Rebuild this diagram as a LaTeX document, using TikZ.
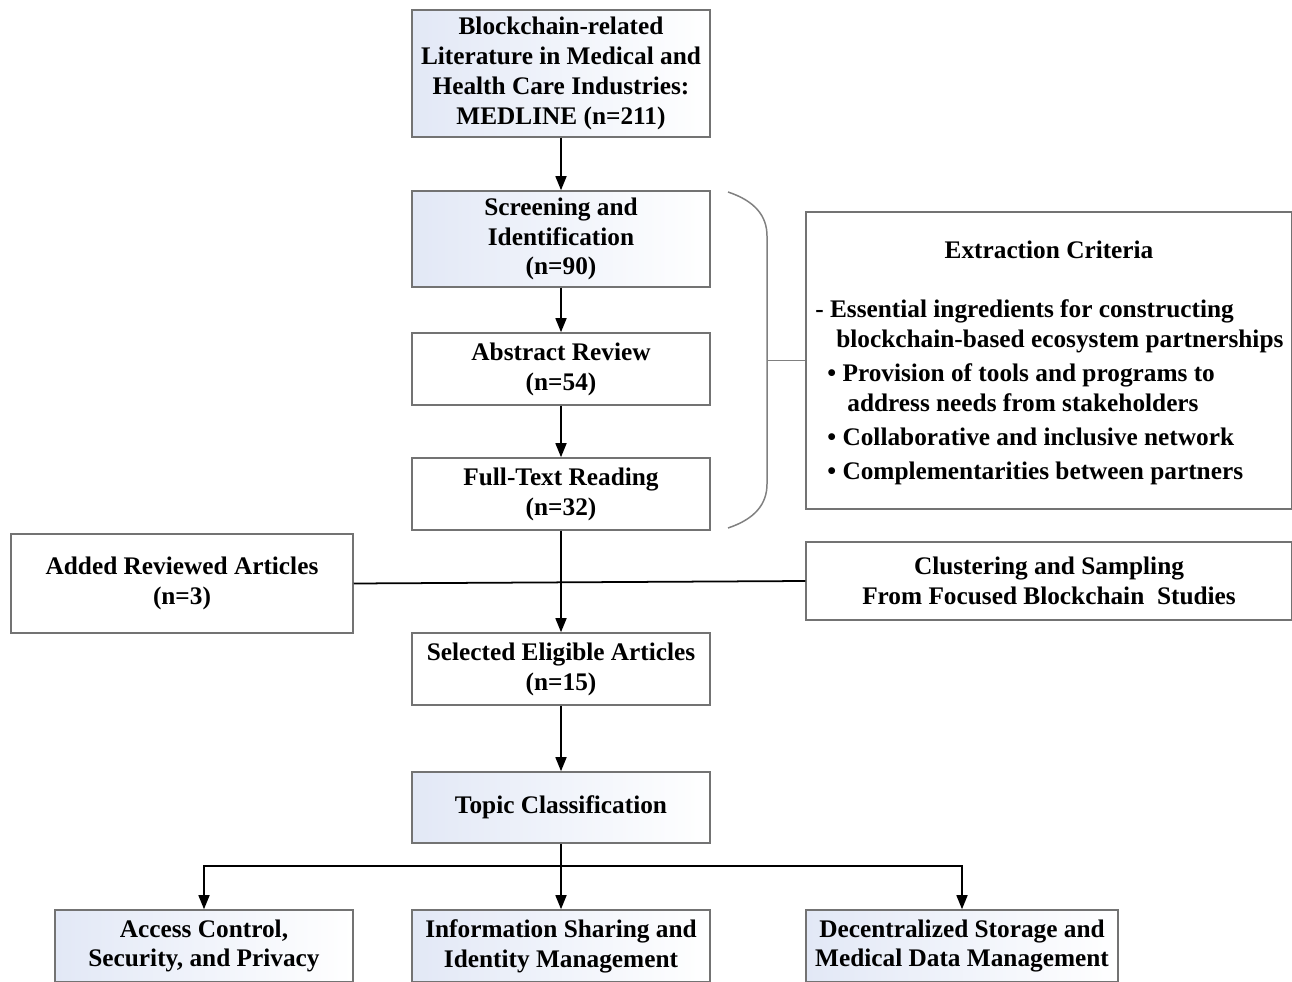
\documentclass[tikz,border=0pt]{standalone}
\usepackage{fontspec}
\setmainfont{Liberation Serif}
\usetikzlibrary{arrows.meta}
\definecolor{gradblue}{RGB}{226,232,246}
\begin{document}
\begin{tikzpicture}[
  font=\fontsize{14.4}{17}\selectfont\bfseries,
  arr/.style={-{Triangle[length=8pt, width=6.2pt]}, black, line width=1.1pt},
  link/.style={black, line width=1pt},
  box/.style={draw=black!55, line width=0.85pt, align=center,
              minimum width=5.96cm, minimum height=1.44cm, inner sep=2pt},
  shadebox/.style={box, left color=gradblue, right color=white},
  plainbox/.style={box, fill=white},
  brace/.style={draw=black!50, line width=0.85pt},
]
\useasboundingbox (0,0) rectangle (25.84,19.62);

%% ── main column ──────────────────────────────────────────────────
\node[shadebox, minimum height=2.54cm] (src) at (11.22, 18.15)
  {Blockchain-related\\ Literature in Medical and\\ Health Care Industries:\\ MEDLINE (n=211)};
\node[shadebox, minimum height=1.92cm] (scr) at (11.22, 14.84)
  {Screening and\\ Identification\\ (n=90)};
\node[plainbox] (abs) at (11.22, 12.24) {Abstract Review\\ (n=54)};
\node[plainbox] (full) at (11.22, 9.74) {Full-Text Reading\\ (n=32)};
\node[plainbox] (sel) at (11.22, 6.24) {Selected Eligible Articles\\ (n=15)};
\node[shadebox, minimum height=1.42cm] (topic) at (11.22, 3.47) {Topic Classification};

\draw[arr] (src) -- (scr);
\draw[arr] (scr) -- (abs);
\draw[arr] (abs) -- (full);
\draw[arr] (full) -- (sel);
\draw[arr] (sel) -- (topic);

%% ── side boxes ───────────────────────────────────────────────────
\node[plainbox, minimum width=6.84cm, minimum height=1.98cm] (added) at (3.64, 7.95)
  {Added Reviewed Articles\\ (n=3)};
\node[plainbox, minimum width=9.72cm, minimum height=1.56cm] (clust) at (20.98, 8.00)
  {Clustering and Sampling\\ From Focused Blockchain\ \ Studies};
\draw[link] (added.east) -- (clust.west);

% extraction criteria
\node[plainbox, minimum width=9.72cm, minimum height=5.94cm] (ext) at (20.98, 12.41) {};
\node (exttitle) at (20.98, 14.62) {Extraction Criteria};
\node[anchor=north west, align=left, inner sep=0pt] (extlist) at (16.30, 13.63)
  {- Essential ingredients for constructing\\
   \hspace*{0.42cm}blockchain-based ecosystem partnerships\\[2.3pt]
   \hspace*{0.24cm}• Provision of tools and programs to\\
   \hspace*{0.64cm}address needs from stakeholders\\[2.3pt]
   \hspace*{0.24cm}• Collaborative and inclusive network\\[2.3pt]
   \hspace*{0.24cm}• Complementarities between partners};

% brace round the screening steps
\coordinate (brtop) at (14.56, 15.78);
\coordinate (brbot) at (14.56, 9.06);
\coordinate (brmid) at (15.34, 12.41);
\draw[brace] (brtop) .. controls (15.10, 15.60) and (15.34, 15.30) .. (15.34, 14.90)
  -- (15.34, 9.94) .. controls (15.34, 9.54) and (15.10, 9.24) .. (brbot);
\draw[brace] (brmid) -- (ext.west);

%% ── topic branches ───────────────────────────────────────────────
\node[shadebox] (acc) at (4.08, 0.70) {Access Control,\\ Security, and Privacy};
\node[shadebox] (info) at (11.22, 0.70) {Information Sharing and\\ Identity Management};
\node[shadebox, minimum width=6.24cm] (dec) at (19.24, 0.70)
  {Decentralized Storage and\\ Medical Data Management};

\coordinate (split) at (11.22, 2.30);
\draw[link] (topic.south) -- (split);
\draw[arr] (split) -- (info);
\draw[arr] (split) -| (acc);
\draw[arr] (split) -| (dec);

\end{tikzpicture}
\end{document}
